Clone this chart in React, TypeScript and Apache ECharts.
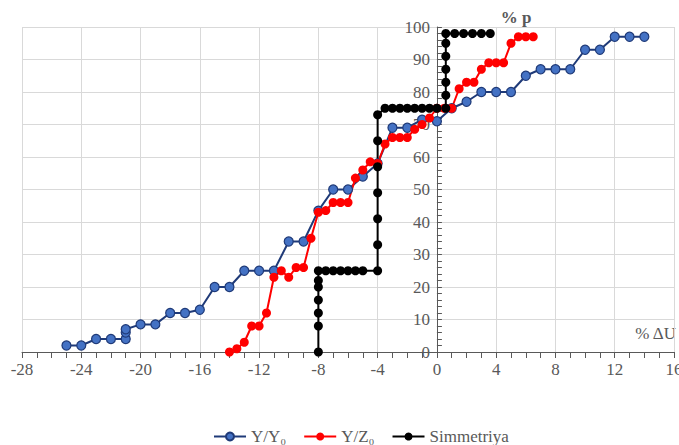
import React, { useEffect, useRef } from "react";
import * as echarts from "echarts";

const seriesNames = ["Y/Y₀", "Y/Z₀", "Simmetriya"];

const yyX = [-25, -24, -23, -22, -21, -21, -21, -20, -19, -18, -17, -16, -15, -14, -13, -12, -11, -10, -9, -8, -7, -6, -5, -4, -3, -2, -1, 0, 1, 2, 3, 4, 5, 6, 7, 8, 9, 10, 11, 12, 13, 14];
const yyP = [2, 2, 4, 4, 4, 6, 7, 8.5, 8.5, 12, 12, 13, 20, 20, 25, 25, 25, 34, 34, 43.5, 50, 50, 54, 58, 69, 69, 71.5, 71, 75, 77, 80, 80, 80, 85, 87, 87, 87, 93, 93, 97, 97, 97];

const yzX = [-14, -13.5, -13, -12.5, -12, -11.5, -11, -10.5, -10, -9.5, -9, -8.5, -8, -7.5, -7, -6.5, -6, -5.5, -5, -4.5, -4, -3.5, -3, -2.5, -2, -1.5, -1, -0.5, 0, 0.5, 1, 1.5, 2, 2.5, 3, 3.5, 4, 4.5, 5, 5.5, 6, 6.5];
const yzP = [0, 1, 3, 8, 8, 12, 23, 25, 23, 26, 26, 35, 43, 43.5, 46, 46, 46, 53.5, 56, 58.5, 58, 64, 66, 66, 66, 68.5, 70, 72, 75, 75, 75, 81, 83, 83, 87, 89, 89, 89, 95, 97, 97, 97];

const symX = [-8, -8, -8, -8, -8, -8, -8, -7.5, -7, -6.5, -6, -5.5, -5, -4, -4, -4, -4, -4, -4, -4, -3.5, -3, -2.5, -2, -1.5, -1, -0.5, 0, 0.6, 0.6, 0.6, 0.6, 0.6, 0.6, 0.6, 1.2, 1.8, 2.4, 3, 3.6];
const symP = [0, 8, 12, 16, 20, 22, 25, 25, 25, 25, 25, 25, 25, 25, 33, 41, 49, 57, 65, 73, 75, 75, 75, 75, 75, 75, 75, 75, 75, 79, 83, 87, 91, 95, 98, 98, 98, 98, 98, 98];

const xTitle = "% ΔU";
const yTitle = "% p";

const FONT = "Liberation Serif";
const GRAY = "#595959";

const X_MIN = -28;
const X_MAX = 16;
const GRID_LEFT = 22;
const GRID_RIGHT = 5;
const W = 679;

const pairs = (xs: number[], ys: number[]) => xs.map((x, i) => [x, ys[i]]);

export default function App() {
  const ref = useRef<HTMLDivElement>(null);
  useEffect(() => {
    if (!ref.current) return;
    const chart = echarts.init(ref.current, undefined, { renderer: "svg" });
    const plotW = W - GRID_LEFT - GRID_RIGHT;
    const yAxisOffset = -((0 - X_MIN) / (X_MAX - X_MIN)) * plotW;
    chart.setOption({
      animation: false,
      backgroundColor: "#ffffff",
      textStyle: { fontFamily: FONT },
      grid: { left: GRID_LEFT, right: GRID_RIGHT, top: 27, bottom: 93, containLabel: false, outerBoundsMode: "none" },
      legend: {
        left: 208,
        top: 423,
        itemWidth: 32,
        itemHeight: 10,
        itemGap: 17,
        textStyle: { fontFamily: FONT, fontSize: 17, color: GRAY },
        data: seriesNames,
      },
      graphic: [
        {
          type: "text",
          x: 516,
          y: 17,
          style: {
            text: yTitle,
            font: `bold 17px ${FONT}`,
            fill: GRAY,
            textAlign: "center",
            textVerticalAlign: "middle",
          },
        },
        {
          type: "text",
          x: 676,
          y: 333,
          style: {
            text: xTitle,
            font: `17px ${FONT}`,
            fill: GRAY,
            textAlign: "right",
            textVerticalAlign: "middle",
          },
        },
      ],
      xAxis: {
        type: "value",
        min: X_MIN,
        max: X_MAX,
        interval: 4,
        axisLine: { onZero: true, lineStyle: { color: GRAY, width: 1 } },
        axisTick: { show: true, length: 6, lineStyle: { color: GRAY } },
        minorTick: { show: true, splitNumber: 4, length: 6, lineStyle: { color: GRAY } },
        axisLabel: { fontFamily: FONT, fontSize: 17, color: GRAY, margin: 9 },
        splitLine: { show: true, lineStyle: { color: "#d9d9d9", width: 1 } },
      },
      yAxis: {
        type: "value",
        min: 0,
        max: 100,
        interval: 10,
        position: "left",
        offset: yAxisOffset,
        axisLine: { show: true, onZero: false, lineStyle: { color: GRAY, width: 1 } },
        axisTick: { show: true, inside: true, length: 5, lineStyle: { color: GRAY } },
        minorTick: { show: true, splitNumber: 5, length: 5, lineStyle: { color: GRAY } },
        axisLabel: { fontFamily: FONT, fontSize: 17, color: GRAY, margin: 7 },
        splitLine: { show: true, lineStyle: { color: "#d9d9d9", width: 1 } },
      },
      series: [
        {
          name: seriesNames[0],
          type: "line",
          data: pairs(yyX, yyP),
          symbol: "circle",
          symbolSize: 9,
          lineStyle: { color: "#1F3A78", width: 2 },
          itemStyle: { color: "#4472C4", borderColor: "#1F3A78", borderWidth: 1.2 },
        },
        {
          name: seriesNames[1],
          type: "line",
          data: pairs(yzX, yzP),
          symbol: "circle",
          symbolSize: 9,
          lineStyle: { color: "#FF0000", width: 2 },
          itemStyle: { color: "#FF0000", borderColor: "#FF0000", borderWidth: 0 },
        },
        {
          name: seriesNames[2],
          type: "line",
          data: pairs(symX, symP),
          symbol: "circle",
          symbolSize: 9,
          lineStyle: { color: "#000000", width: 2 },
          itemStyle: { color: "#000000", borderColor: "#000000", borderWidth: 0 },
        },
      ],
    });
    return () => chart.dispose();
  }, []);
  return (
    <div
      ref={ref}
      style={{ position: "fixed", left: 0, top: 0, width: W, height: 445 }}
    />
  );
}
